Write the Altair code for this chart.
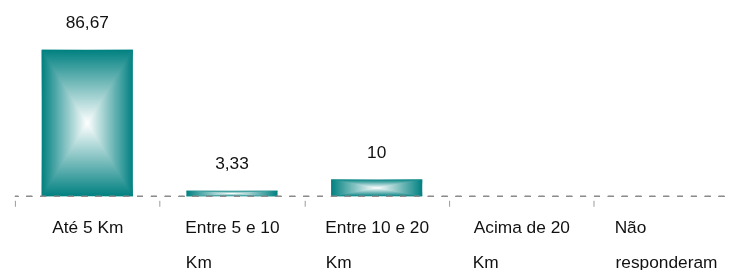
import json
import altair as alt
import pandas as pd

categories = ["Até 5 Km", "Entre 5 e 10 Km", "Entre 10 e 20 Km", "Acima de 20 Km", "Não responderam"]
values = [86.67, 3.33, 10, 0, 0]
label_lines = [["Até 5 Km"], ["Entre 5 e 10", "Km"], ["Entre 10 e 20", "Km"], ["Acima de 20", "Km"], ["Não", "responderam"]]

TEAL = "#008080"
FONT = "Liberation Sans"
FS = 17.5

# Arial / Liberation Sans advance widths (1/1000 em) used to left-align wrapped lines
WIDTHS = {" ": 278, "\u00a0": 278, "A": 667, "E": 667, "K": 667, "N": 722, "t": 278, "r": 333,
          "i": 222, "c": 500, "s": 500, "m": 833}


def text_width(s):
    return sum(WIDTHS.get(ch, 556) for ch in s)


def pad_block(lines):
    # pad shorter lines with no-break spaces (kept by a trailing zero-width space)
    w = max(text_width(line) for line in lines)
    out = []
    for line in lines:
        n = round((w - text_width(line)) / 278)
        out.append(line + "\u00a0" * n + ("\u200b" if n else ""))
    return out


padded = [pad_block(lines) for lines in label_lines]
label_expr = "{}[indexof({}, datum.label)]".format(
    json.dumps(padded, ensure_ascii=False), json.dumps(categories, ensure_ascii=False))

df = pd.DataFrame({"categoria": categories, "valor": values})


def gradient(horizontal):
    return alt.Gradient(gradient="linear", x1=0, x2=1 if horizontal else 0, y1=0, y2=0 if horizontal else 1,
                        stops=[alt.GradientStop(color=TEAL, offset=0),
                               alt.GradientStop(color="#ffffff", offset=0.5),
                               alt.GradientStop(color=TEAL, offset=1)])


PLOT_W = 731.5          # five full category slots; the last one runs past the window edge
VISIBLE_W = 721         # part of the plot that fits in the page
PAD_INNER = 0.37
STEP = PLOT_W / len(categories)
HALF_GAP = PAD_INNER * STEP / 2

x = alt.X("categoria:N", sort=categories,
          scale=alt.Scale(paddingInner=PAD_INNER),
          axis=alt.Axis(title=None, domain=False, bandPosition=0, tickOffset=-HALF_GAP,
                        labelOffset=HALF_GAP, tickSize=6, tickColor="#9a9a9a",
                        tickWidth=1, offset=4, labelAngle=0, labelFont=FONT, labelFontSize=FS,
                        labelColor="#111111", labelBaseline="top", labelPadding=13, labelLineHeight=35,
                        labelAlign="center", labelOverlap=False, labelBound=False, labelLimit=0,
                        labelExpr=label_expr))
y = alt.Y("valor:Q", scale=alt.Scale(domain=[0, 100]), axis=None)

base = alt.Chart(df).encode(x=x, y=y)
bars_h = base.mark_bar(color=gradient(True))
bars_v = base.mark_bar(color=gradient(False), blend="darken")
text = base.transform_filter("datum.valor > 0").transform_calculate(
    rotulo="replace(format(datum.valor, '.4~g'), '.', ',')"
).mark_text(dy=-22, baseline="alphabetic", font=FONT, fontSize=FS, color="#111111").encode(
    text="rotulo:N")
rule = alt.Chart(df).mark_rule(color="#8c8c8c", strokeDash=[6, 8], strokeWidth=1).encode(y=alt.datum(0))

chart = alt.layer(bars_h, bars_v, text, rule).properties(
    width=PLOT_W, height=171,
    autosize=alt.AutoSizeParams(type="none"),
    padding={"left": 7, "top": 18, "right": VISIBLE_W - PLOT_W, "bottom": 73},
).configure_view(stroke=None)

chart.save("out.html", embed_options={"renderer": "svg", "actions": False})
